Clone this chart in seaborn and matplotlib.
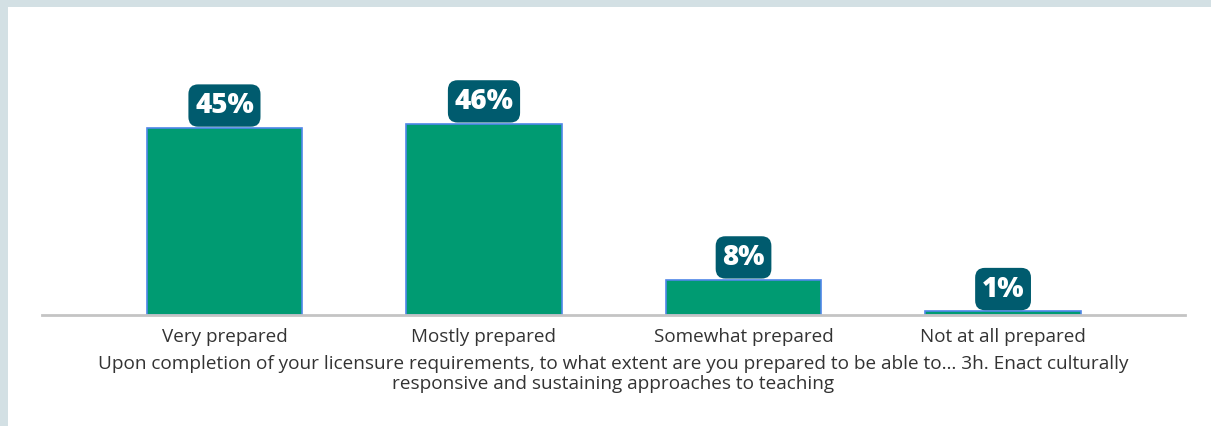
import matplotlib
matplotlib.use("Agg")
import matplotlib.pyplot as plt
import seaborn as sns
import pandas as pd
from matplotlib.patches import Rectangle

categories = ["Very prepared", "Mostly prepared", "Somewhat prepared", "Not at all prepared"]
values = [45, 46, 8.5, 0.9]
labels = ["45%", "46%", "8%", "1%"]
xlabel = ("Upon completion of your licensure requirements, to what extent are you prepared to be able to\u2026 3h. Enact culturally\n"
          "responsive and sustaining approaches to teaching")

sns.set_theme(style="white")
plt.rcParams["font.family"] = ["Open Sans", "DejaVu Sans"]

W, H = 1211, 426
fig = plt.figure(figsize=(W / 100, H / 100), dpi=100)
fig.patch.set_facecolor("#d3e0e4")
fig.patches.append(Rectangle((8 / W, 0), 1 - 8 / W, (H - 7) / H, transform=fig.transFigure,
                             facecolor="white", edgecolor="none", zorder=-10))

ax = fig.add_axes([42 / W, (H - 315) / H, (1185 - 42) / W, (315 - 20) / H])
ax.patch.set_alpha(0)

df = pd.DataFrame({"cat": categories, "val": values})
sns.barplot(data=df, x="cat", y="val", color="#009b72", saturation=1, width=0.6,
            edgecolor="#4f86e8", linewidth=1.2, ax=ax)

ax.set_xlim(-0.703, 3.701)
ax.set_ylim(0, 70.9)
ax.set_yticks([])
for s in ["top", "right", "left"]:
    ax.spines[s].set_visible(False)
ax.spines["bottom"].set_color("#c4c4c4")
ax.spines["bottom"].set_linewidth(2)

ax.tick_params(axis="x", length=0, pad=9, labelsize=13.6, labelcolor="#333333")
ax.set_xlabel(xlabel, fontsize=13.7, color="#333333", labelpad=7, linespacing=1.15)
ax.set_ylabel("")

for i, (v, lab) in enumerate(zip(values, labels)):
    ax.annotate(lab, xy=(i, v), xytext=(0, 16), textcoords="offset points",
                ha="center", va="center", fontsize=20, fontweight="heavy", color="white",
                bbox=dict(boxstyle="round,pad=0.24,rounding_size=0.35", facecolor="#005b6e",
                          edgecolor="none"))

fig.savefig("out.png", dpi=100)
